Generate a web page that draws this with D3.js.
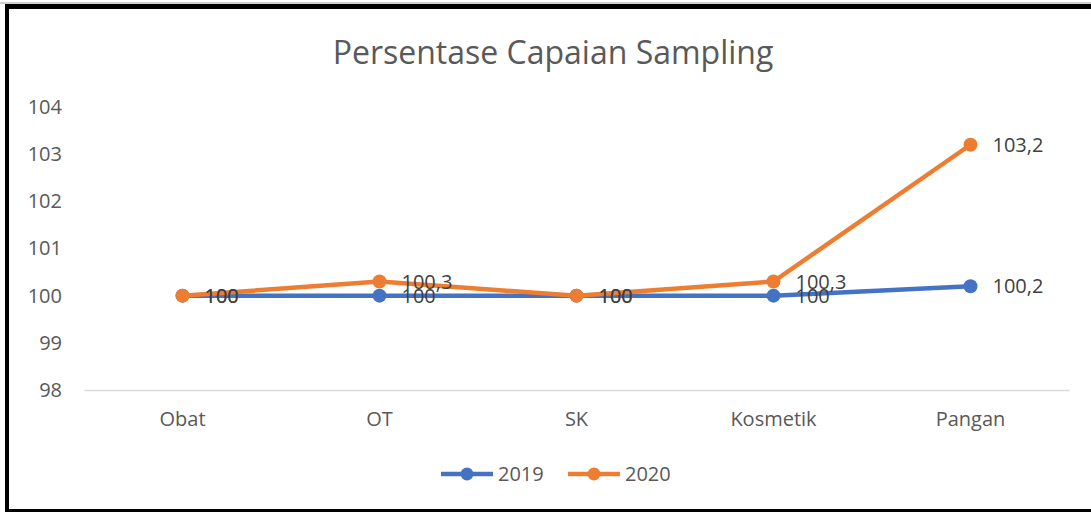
<!DOCTYPE html>
<html>
<head>
<meta charset="utf-8">
<script src="https://cdn.jsdelivr.net/npm/d3@7"></script>
<style>
  body { margin: 0; background: #fff; }
  text { font-family: "Open Sans", "Noto Sans", sans-serif; }
</style>
</head>
<body>
<div id="chart"></div>
<script>
// data
var categories = ["Obat", "OT", "SK", "Kosmetik", "Pangan"];
var values2019 = [100, 100, 100, 100, 100.2];
var values2020 = [100, 100.3, 100, 100.3, 103.2];
var yTicks = [98, 99, 100, 101, 102, 103, 104];
var seriesNames = ["2019", "2020"];
var seriesColors = ["#4472C4", "#ED7D31"];

var width = 1091, height = 512;
var margin = {top: 107, right: 22, bottom: 122, left: 84};

var svg = d3.select("#chart").append("svg")
  .attr("width", width)
  .attr("height", height);

// frame (left, top, bottom edges as in the screenshot)
svg.append("rect").attr("x", 0).attr("y", 2).attr("width", width).attr("height", 2).attr("fill", "#d0d0d0");
svg.append("rect").attr("x", 5).attr("y", 4).attr("width", width - 5).attr("height", 5).attr("fill", "#000");
svg.append("rect").attr("x", 5).attr("y", 4).attr("width", 4).attr("height", height - 4).attr("fill", "#000");
svg.append("rect").attr("x", 5).attr("y", 509).attr("width", width - 5).attr("height", 3).attr("fill", "#000");

svg.append("text")
  .attr("x", 553)
  .attr("y", 64)
  .attr("text-anchor", "middle")
  .attr("fill", "#595959")
  .style("font-size", "32px")
  .text("Persentase Capaian Sampling");

var x = d3.scaleBand()
  .domain(categories)
  .range([margin.left, width - margin.right]);

var y = d3.scaleLinear()
  .domain([98, 104])
  .range([height - margin.bottom, margin.top]);

// y axis labels only
var yAxis = svg.append("g")
  .attr("transform", "translate(" + (margin.left - 22) + ",0)")
  .call(d3.axisLeft(y).tickValues(yTicks).tickFormat(d3.format("d")).tickSize(0).tickPadding(0));
yAxis.select(".domain").remove();
yAxis.selectAll("text")
  .attr("fill", "#595959")
  .style("font-size", "20px")
  .style("font-family", "'Open Sans', sans-serif");

// x axis
var xAxis = svg.append("g")
  .attr("transform", "translate(0," + y(98) + ")")
  .call(d3.axisBottom(x).tickSize(0).tickPadding(22));
xAxis.select(".domain").attr("stroke", "#d9d9d9").attr("stroke-width", 1.5);
xAxis.selectAll("text")
  .attr("fill", "#595959")
  .style("font-size", "20px")
  .style("font-family", "'Open Sans', sans-serif");

var series = [values2019, values2020].map(function(vals, i) {
  return {
    name: seriesNames[i],
    color: seriesColors[i],
    values: vals.map(function(v, j) { return {cat: categories[j], value: v}; })
  };
});

var line = d3.line()
  .x(function(d) { return x(d.cat) + x.bandwidth() / 2; })
  .y(function(d) { return y(d.value); });

var fmt = function(v) { return String(v).replace(".", ","); };

series.forEach(function(s) {
  var g = svg.append("g");
  g.append("path")
    .datum(s.values)
    .attr("d", line)
    .attr("fill", "none")
    .attr("stroke", s.color)
    .attr("stroke-width", 4.5)
    .attr("stroke-linejoin", "round");
  g.selectAll("circle")
    .data(s.values).enter()
    .append("circle")
    .attr("cx", function(d) { return x(d.cat) + x.bandwidth() / 2; })
    .attr("cy", function(d) { return y(d.value); })
    .attr("r", 7)
    .attr("fill", s.color);
});

// data labels (they overlap each other in the original too)
series.forEach(function(s) {
  svg.append("g").selectAll("text")
    .data(s.values).enter()
    .append("text")
    .attr("x", function(d) { return x(d.cat) + x.bandwidth() / 2 + 22; })
    .attr("y", function(d) { return y(d.value); })
    .attr("dy", "0.35em")
    .attr("fill", "#404040")
    .style("font-size", "20px")
    .text(function(d) { return fmt(d.value); });
});

// legend
var legend = svg.append("g").attr("transform", "translate(441,474)");
var items = legend.selectAll("g")
  .data(series).enter()
  .append("g")
  .attr("transform", function(d, i) { return "translate(" + (i * 127) + ",0)"; });
items.append("line")
  .attr("x1", 0).attr("x2", 52)
  .attr("stroke", function(d) { return d.color; })
  .attr("stroke-width", 4.5);
items.append("circle")
  .attr("cx", 26).attr("r", 6.5)
  .attr("fill", function(d) { return d.color; });
items.append("text")
  .attr("x", 57)
  .attr("dy", "0.35em")
  .attr("fill", "#595959")
  .style("font-size", "20px")
  .text(function(d) { return d.name; });
</script>
</body>
</html>
